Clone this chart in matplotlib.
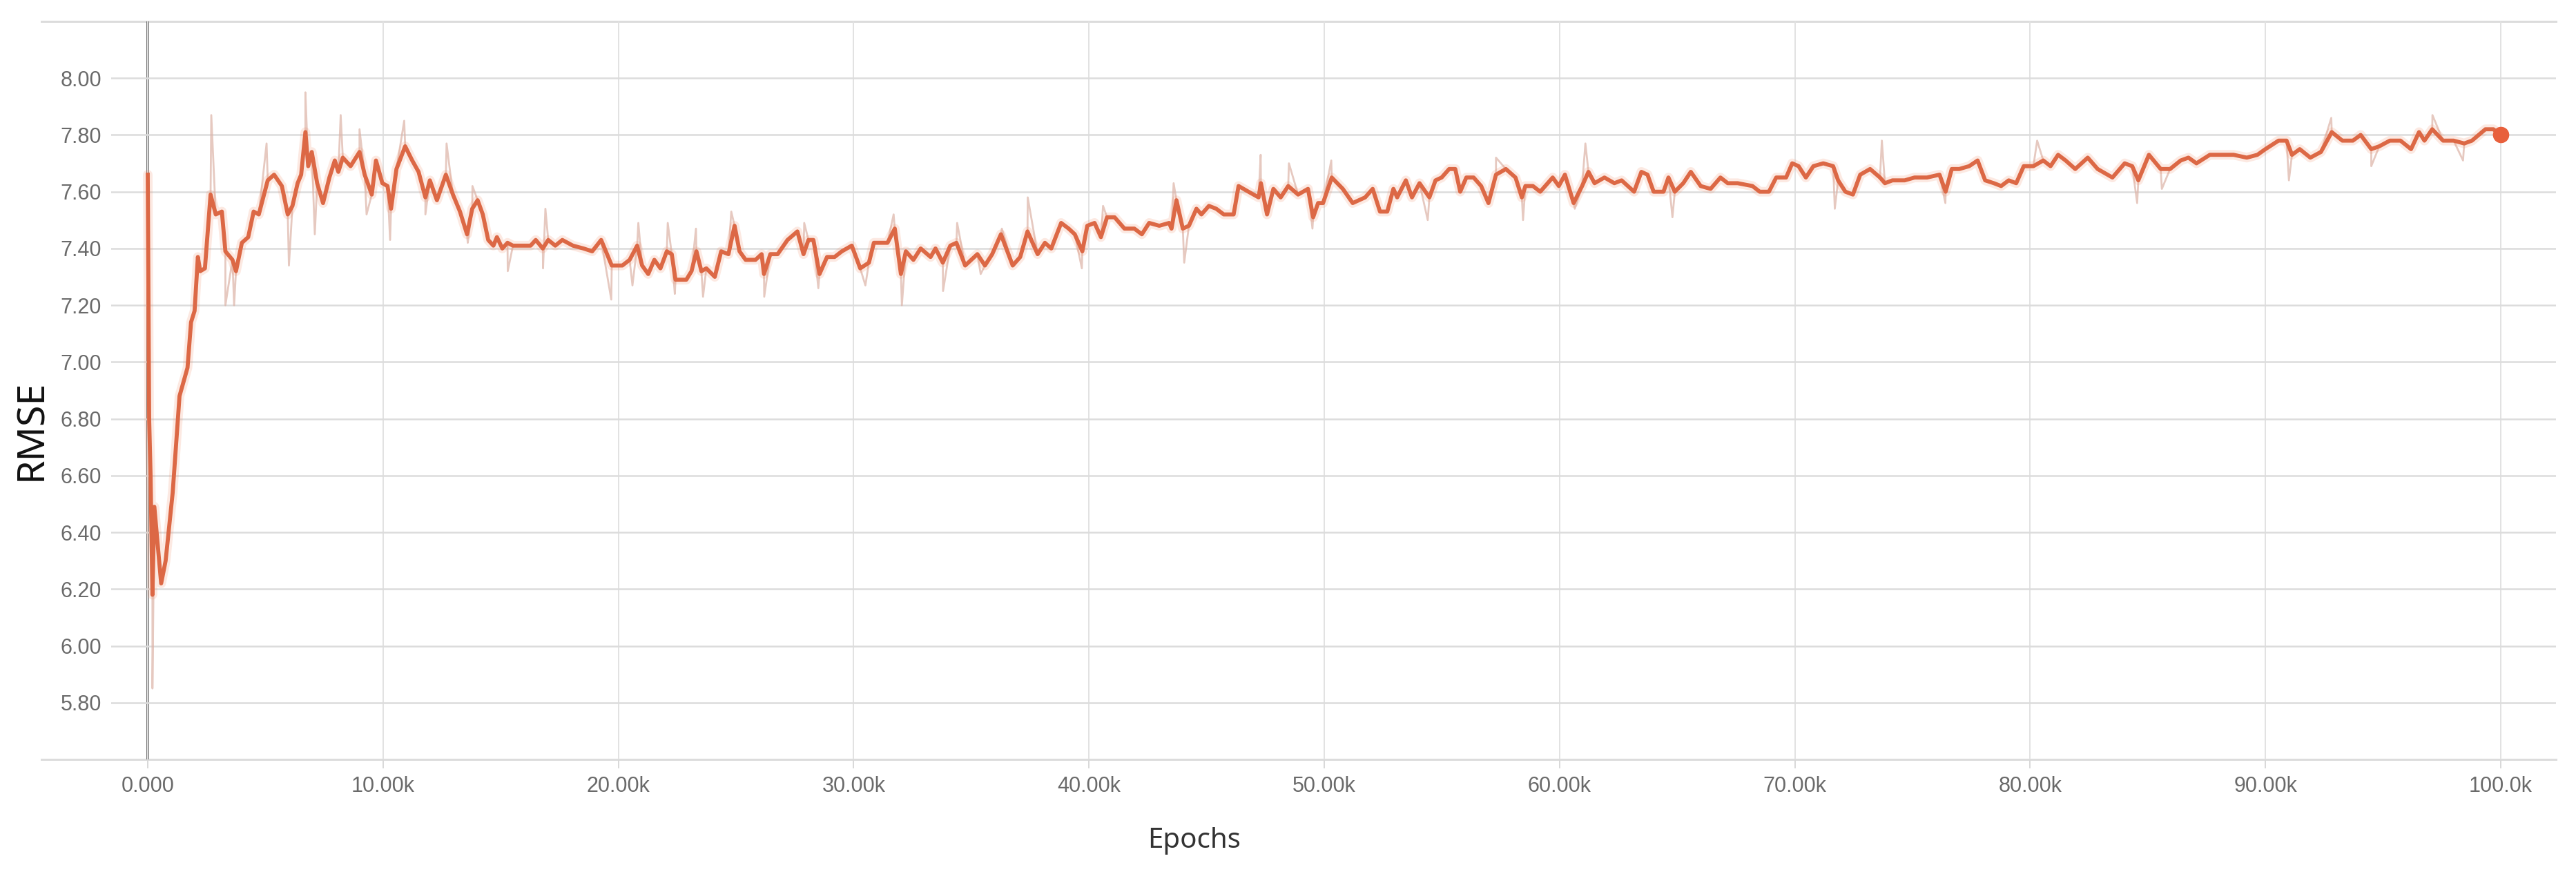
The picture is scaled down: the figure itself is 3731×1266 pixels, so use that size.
import numpy as np
import matplotlib.pyplot as plt
from matplotlib.ticker import FixedLocator

# smoothed RMSE curve, epochs in thousands
epochs_k = [0.00, 0.06, 0.12, 0.20, 0.28, 0.57, 0.76, 1.06, 1.35, 1.69, 1.84, 1.99, 2.13, 2.23,
            2.43, 2.67, 2.89, 3.15, 3.30, 3.60, 3.75, 4.00, 4.27, 4.50, 4.72, 5.10, 5.37, 5.70,
            5.95, 6.15, 6.37, 6.52, 6.70, 6.82, 6.97, 7.20, 7.45, 7.72, 7.95, 8.10, 8.29, 8.62,
            9.00, 9.22, 9.52, 9.70, 9.97, 10.19, 10.34, 10.57, 10.94, 11.24, 11.51, 11.80,
            11.99, 12.29, 12.67, 12.97, 13.27, 13.57, 13.79, 14.02, 14.24, 14.47, 14.69, 14.84,
            15.07, 15.29, 15.52, 15.82, 16.27, 16.49, 16.79, 17.02, 17.32, 17.62, 18.07, 18.52,
            18.89, 19.27, 19.72, 20.01,
            20.17, 20.48, 20.80, 21.01, 21.27, 21.53, 21.79, 22.06, 22.27, 22.43, 22.89, 23.11,
            23.32, 23.53, 23.74, 24.10, 24.37, 24.68, 24.94, 25.15, 25.41, 25.83, 26.09, 26.19,
            26.46, 26.77, 27.19, 27.61, 27.87, 28.08, 28.29, 28.55, 28.87, 29.19, 29.50, 29.92,
            30.28, 30.65, 30.86, 31.44, 31.75, 32.01, 32.22, 32.54, 32.85, 33.27, 33.48, 33.79,
            34.11, 34.37, 34.74, 35.26, 35.58, 35.89, 36.26,
            36.76, 37.08, 37.39, 37.82, 38.13, 38.40, 38.82, 39.14, 39.40, 39.72, 39.93, 40.24,
            40.51, 40.77, 41.09, 41.51, 41.93, 42.25, 42.56, 42.99, 43.41, 43.51, 43.72, 43.99,
            44.25, 44.57, 44.78, 45.10, 45.41, 45.73, 46.15, 46.36, 46.78, 47.21, 47.31, 47.57,
            47.84, 48.15, 48.47, 48.89, 49.31, 49.53, 49.74, 49.95, 50.32, 50.79, 51.21, 51.74,
            52.06, 52.37,
            52.68, 52.94, 53.10, 53.47, 53.73, 54.05, 54.47, 54.73, 54.99, 55.31, 55.57, 55.78,
            56.04, 56.35, 56.67, 56.98, 57.30, 57.72, 58.13, 58.40, 58.55, 58.87, 59.18, 59.71,
            59.97, 60.23, 60.60, 60.96, 61.23, 61.49, 61.91, 62.33, 62.64, 63.17, 63.48, 63.74,
            64.00, 64.42, 64.63, 64.90, 65.26, 65.58, 66.00, 66.42, 66.84, 67.15, 67.57, 68.20,
            68.51,
            68.90, 69.21, 69.63, 69.89, 70.16, 70.47, 70.79, 71.21, 71.63, 71.84, 72.15, 72.47,
            72.78, 73.20, 73.62, 73.83, 74.15, 74.67, 75.09, 75.62, 76.15, 76.41, 76.67, 76.99,
            77.41, 77.77, 78.09, 78.46, 78.77, 79.09, 79.41, 79.73, 80.14, 80.56, 80.87, 81.19,
            81.51, 81.92, 82.45, 82.87, 83.50, 84.02, 84.34, 84.60,
            85.05, 85.55, 85.95, 86.40, 86.73, 87.07, 87.64, 88.20, 88.65, 89.21, 89.66, 90.00,
            90.56, 90.90, 91.13, 91.46, 91.91, 92.36, 92.82, 93.27, 93.72, 94.05, 94.50, 94.84,
            95.29, 95.74, 96.19, 96.53, 96.76, 97.09, 97.55, 98.00, 98.45, 98.78, 99.35, 99.69,
            100.0]
rmse = [7.66, 6.80, 6.60, 6.18, 6.49, 6.22, 6.30, 6.54, 6.88, 6.98, 7.14, 7.18, 7.37, 7.32,
        7.33, 7.59, 7.52, 7.53, 7.39, 7.36, 7.32, 7.42, 7.44, 7.53, 7.52, 7.64, 7.66, 7.62,
        7.52, 7.55, 7.63, 7.66, 7.81, 7.69, 7.74, 7.63, 7.56, 7.65, 7.71, 7.67, 7.72, 7.69,
        7.74, 7.66, 7.59, 7.71, 7.63, 7.62, 7.54, 7.68, 7.76, 7.71, 7.67, 7.58,
        7.64, 7.57, 7.66, 7.59, 7.53, 7.45, 7.54, 7.57, 7.52, 7.43, 7.41, 7.44,
        7.40, 7.42, 7.41, 7.41, 7.41, 7.43, 7.40, 7.43, 7.41, 7.43, 7.41, 7.40,
        7.39, 7.43, 7.34, 7.34,
        7.34, 7.36, 7.41, 7.34, 7.31, 7.36, 7.33, 7.39, 7.38, 7.29, 7.29, 7.32,
        7.39, 7.32, 7.33, 7.30, 7.39, 7.38, 7.48, 7.39, 7.36, 7.36, 7.38, 7.31,
        7.38, 7.38, 7.43, 7.46, 7.38, 7.43, 7.43, 7.31, 7.37, 7.37, 7.39, 7.41,
        7.33, 7.35, 7.42, 7.42, 7.47, 7.31, 7.39, 7.36, 7.40, 7.37, 7.40, 7.35,
        7.41, 7.42, 7.34, 7.38, 7.34, 7.38, 7.45,
        7.34, 7.37, 7.46, 7.38, 7.42, 7.40, 7.49, 7.47, 7.45, 7.39, 7.48, 7.49,
        7.44, 7.51, 7.51, 7.47, 7.47, 7.45, 7.49, 7.48, 7.49, 7.47, 7.57, 7.47,
        7.48, 7.54, 7.52, 7.55, 7.54, 7.52, 7.52, 7.62, 7.60, 7.58, 7.63, 7.52,
        7.61, 7.58, 7.62, 7.59, 7.61, 7.51, 7.56, 7.56, 7.65, 7.61, 7.56, 7.58,
        7.61, 7.53,
        7.53, 7.61, 7.58, 7.64, 7.58, 7.63, 7.58, 7.64, 7.65, 7.68, 7.68, 7.60,
        7.65, 7.65, 7.62, 7.56, 7.66, 7.68, 7.65, 7.58, 7.62, 7.62, 7.60, 7.65,
        7.62, 7.66, 7.56, 7.62, 7.67, 7.63, 7.65, 7.63, 7.64, 7.60, 7.67, 7.66,
        7.60, 7.60, 7.65, 7.60, 7.63, 7.67, 7.62, 7.61, 7.65, 7.63, 7.63, 7.62,
        7.60,
        7.60, 7.65, 7.65, 7.70, 7.69, 7.65, 7.69, 7.70, 7.69, 7.64, 7.60, 7.59,
        7.66, 7.68, 7.65, 7.63, 7.64, 7.64, 7.65, 7.65, 7.66, 7.60, 7.68, 7.68,
        7.69, 7.71, 7.64, 7.63, 7.62, 7.64, 7.63, 7.69, 7.69, 7.71, 7.69, 7.73,
        7.71, 7.68, 7.72, 7.68, 7.65, 7.70, 7.69, 7.64,
        7.73, 7.68, 7.68, 7.71, 7.72, 7.70, 7.73, 7.73, 7.73, 7.72, 7.73, 7.75,
        7.78, 7.78, 7.73, 7.75, 7.72, 7.74, 7.81, 7.78, 7.78, 7.80, 7.75, 7.76,
        7.78, 7.78, 7.75, 7.81, 7.78, 7.82, 7.78, 7.78, 7.77, 7.78, 7.82, 7.82,
        7.80]

# raw (unsmoothed) excursions visible as faint spikes
spike_k = [0.20, 2.70, 3.30, 3.67, 5.05, 6.00, 6.70, 7.10, 8.20, 9.00, 9.30, 10.30, 10.90,
           11.80, 12.70, 13.60, 13.80, 15.30, 16.80, 16.90, 19.70, 20.60, 20.85, 22.10, 22.40,
           23.30, 23.60, 24.80, 26.20, 27.90, 28.50, 30.50, 31.70, 32.05, 33.80, 34.40, 35.40,
           36.30, 37.40, 39.70, 40.60, 43.60, 44.05, 47.30, 48.50, 49.50, 50.30, 54.40, 57.30,
           58.45, 60.65, 61.10, 64.80, 71.70, 73.70, 76.40, 80.30, 84.55, 85.60, 91.00, 92.80,
           94.50, 97.10, 98.40]
spike_val = [5.85, 7.87, 7.20, 7.20, 7.77, 7.34, 7.95, 7.45, 7.87, 7.82, 7.52, 7.43, 7.85,
             7.52, 7.77, 7.42, 7.62, 7.32, 7.33, 7.54, 7.22, 7.27, 7.49, 7.49, 7.24,
             7.47, 7.23, 7.53, 7.23, 7.49, 7.26, 7.27, 7.52, 7.20, 7.25, 7.49, 7.31,
             7.47, 7.58, 7.33, 7.55, 7.63, 7.35, 7.73, 7.70, 7.47, 7.71, 7.50, 7.72,
             7.50, 7.54, 7.77, 7.51, 7.54, 7.78, 7.56, 7.78, 7.56, 7.61, 7.64, 7.86,
             7.69, 7.87, 7.71]

xtick_labels = ['0.000', '10.00k', '20.00k', '30.00k', '40.00k', '50.00k',
                '60.00k', '70.00k', '80.00k', '90.00k', '100.0k']

W, H = 3731, 1266
fig = plt.figure(figsize=(W / 100, H / 100), dpi=100)
ax_l, ax_r, ax_t, ax_b = 161, 3702, 31, 1100
ax = fig.add_axes([ax_l / W, 1 - ax_b / H, (ax_r - ax_l) / W, (ax_b - ax_t) / H])

x = np.array(epochs_k) * 1000
raw_x = np.concatenate([x, np.array(spike_k) * 1000])
raw_y = np.concatenate([rmse, spike_val])
order = np.argsort(raw_x, kind='stable')

ax.plot(raw_x[order], raw_y[order], color='#dcb2a6', lw=2.0, alpha=0.7, zorder=2)
ax.plot(x, rmse, color='#f28a63', lw=10, alpha=0.18, zorder=3, solid_capstyle='round')
ax.plot(x, rmse, color='#dc6845', lw=4.2, zorder=3)
ax.plot(x[-1], rmse[-1], 'o', color='#e8603c', ms=16, zorder=4)

ax.set_xlim(-1555, 102350)
ax.set_ylim(5.6, 8.2)

yt = np.round(np.arange(5.8, 8.01, 0.2), 2)
ax.yaxis.set_major_locator(FixedLocator(yt))
ax.set_yticklabels([f'{v:.2f}' for v in yt])
ax.set_xticks(np.arange(0, 100001, 10000))
ax.set_xticklabels(xtick_labels)

for s in ax.spines.values():
    s.set_visible(False)
ax.grid(axis='y', color='#dcdcdc', lw=1.8, zorder=0)
ax.grid(axis='x', color='#e2e2e2', lw=1.4, zorder=0)
ax.axvline(0, color='#666666', lw=2.8, zorder=1)

# top and bottom frame lines reach further left than the gridlines
x0 = (60 - ax_l) / (ax_r - ax_l)
for yv in (5.6, 8.2):
    ax.plot([x0, 1], [yv, yv], transform=ax.get_yaxis_transform(),
            color='#dcdcdc', lw=2.2, clip_on=False, zorder=0)

ax.tick_params(axis='y', length=0, pad=10, labelsize=22, labelcolor='#6a6a6a')
ax.tick_params(axis='x', length=9, width=1.4, color='#d8d8d8', pad=8,
               labelsize=22, labelcolor='#6a6a6a')
for lab in ax.get_xticklabels() + ax.get_yticklabels():
    lab.set_family('Liberation Sans')

fig.text(1730 / W, 1 - 1218 / H, 'Epochs', ha='center', va='center',
         fontsize=29, color='#333333', family='Noto Sans')
fig.text(46 / W, 1 - 623 / H, 'RMSE', ha='center', va='center', rotation=90,
         fontsize=40, color='#111111', family='Noto Sans')

fig.savefig('out.png', dpi=100, facecolor='white')
